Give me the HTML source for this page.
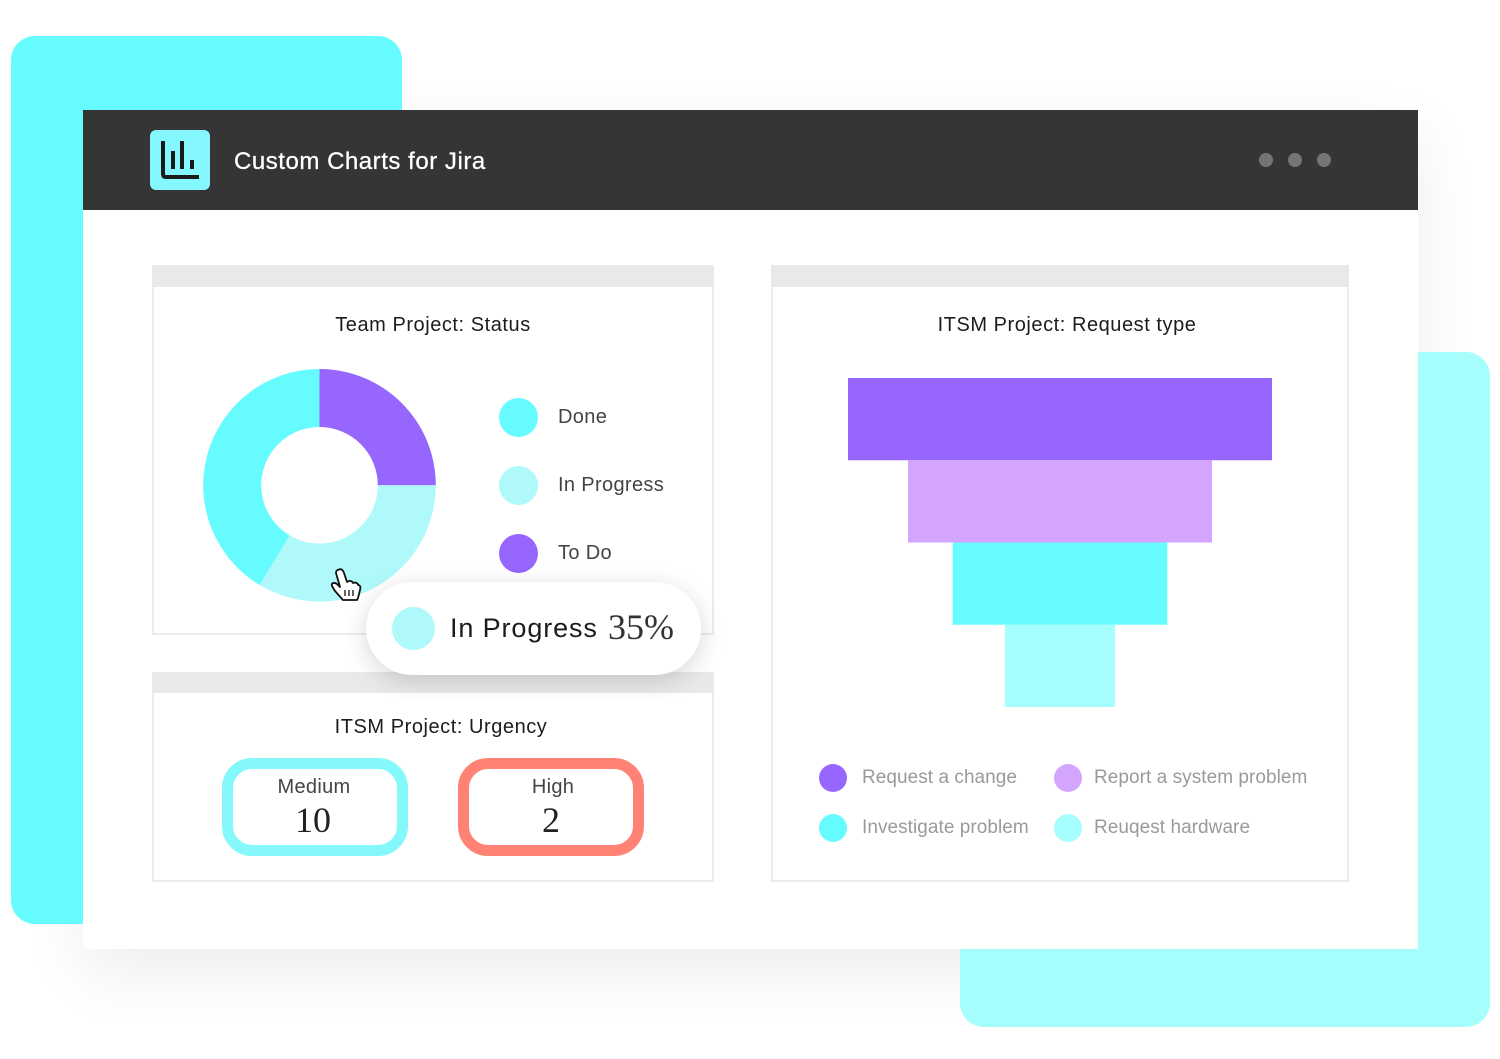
<!DOCTYPE html>
<html lang="en">
<head>
<meta charset="utf-8">
<title>Custom Charts for Jira</title>
<style>
html,body{margin:0;padding:0;background:#fff;}
#stage{position:relative;width:1500px;height:1059px;overflow:hidden;background:#fff;font-family:"Liberation Sans",sans-serif;color:#222;}
#stage div,#stage span{position:absolute;box-sizing:border-box;white-space:nowrap;}
.panel{background:#fff;border:2px solid #ececec;border-top:0;}
.panel-bar{background:#e9e9e9;}
.title{font-size:20px;letter-spacing:.55px;color:#1c1c1c;line-height:24px;text-align:center;}
.dot{border-radius:50%;}
.lbl{font-size:20px;line-height:24px;letter-spacing:.35px;color:#444;}
.lbl2{font-size:19px;line-height:24px;letter-spacing:.05px;color:#9a9a9a;}
.kpi{border-radius:30px;border:11px solid;background:#fff;}
.kpi-l{font-size:20px;line-height:24px;color:#444;text-align:center;letter-spacing:.3px;}
.kpi-v{font-family:"Liberation Serif",serif;font-size:36px;line-height:40px;color:#222;text-align:center;}
svg{position:absolute;left:0;top:0;}
</style>
</head>
<body>
<div id="stage">
  <div style="left:83px;top:110px;width:1335px;height:839px;box-shadow:0 24px 60px rgba(0,0,0,.07);"></div>
  <div style="left:11px;top:36px;width:391px;height:888px;background:#66fbff;border-radius:24px;"></div>
  <div style="left:960px;top:352px;width:530px;height:675px;background:#a6fffc;border-radius:24px;"></div>

  <div style="left:83px;top:110px;width:1335px;height:839px;background:#fff;"></div>
  <div style="left:83px;top:110px;width:1335px;height:100px;background:#353535;"></div>

  <div style="left:150px;top:130px;width:60px;height:60px;background:#85f8ff;border-radius:6px;">
    <svg width="60" height="60" viewBox="0 0 60 60">
      <path d="M13 11V44Q13 47 16 47H49" fill="none" stroke="#1a1a1a" stroke-width="4"/>
      <rect x="21" y="21" width="4" height="18" fill="#1a1a1a"/>
      <rect x="30" y="11" width="4" height="28" fill="#1a1a1a"/>
      <rect x="40" y="30" width="4" height="9" fill="#1a1a1a"/>
    </svg>
  </div>
  <div style="left:234px;top:147px;font-size:24px;line-height:30px;letter-spacing:.53px;color:#fff;-webkit-text-stroke:.3px #fff;">Custom Charts for Jira</div>
  <div class="dot" style="left:1259px;top:153px;width:14px;height:14px;background:#757575;"></div>
  <div class="dot" style="left:1288px;top:153px;width:14px;height:14px;background:#757575;"></div>
  <div class="dot" style="left:1317px;top:153px;width:14px;height:14px;background:#757575;"></div>

  <!-- Status panel -->
  <div class="panel" style="left:152px;top:265px;width:562px;height:370px;"></div>
  <div class="panel-bar" style="left:152px;top:265px;width:562px;height:22px;"></div>
  <div class="title" style="left:152px;top:313px;width:562px;">Team Project: Status</div>

  <svg id="donut" width="1500" height="1059"></svg>

  <div class="dot" style="left:499px;top:398px;width:39px;height:39px;background:#66fbff;"></div>
  <div class="lbl" style="left:558px;top:405px;">Done</div>
  <div class="dot" style="left:499px;top:466px;width:39px;height:39px;background:#b0f9fb;"></div>
  <div class="lbl" style="left:558px;top:473px;">In Progress</div>
  <div class="dot" style="left:499px;top:534px;width:39px;height:39px;background:#9666ff;"></div>
  <div class="lbl" style="left:558px;top:541px;">To Do</div>

  <!-- Urgency panel -->
  <div class="panel" style="left:152px;top:672px;width:562px;height:210px;"></div>
  <div class="panel-bar" style="left:152px;top:672px;width:562px;height:21px;"></div>
  <div class="title" style="left:160px;top:715px;width:562px;">ITSM Project: Urgency</div>

  <div class="kpi" style="left:222px;top:758px;width:186px;height:98px;border-color:#85f8fc;"></div>
  <div class="kpi-l" style="left:221px;top:775px;width:186px;">Medium</div>
  <div class="kpi-v" style="left:220px;top:800px;width:186px;">10</div>
  <div class="kpi" style="left:458px;top:758px;width:186px;height:98px;border-color:#ff8274;"></div>
  <div class="kpi-l" style="left:460px;top:775px;width:186px;">High</div>
  <div class="kpi-v" style="left:458px;top:800px;width:186px;">2</div>

  <!-- Tooltip -->
  <div style="left:366px;top:582px;width:335px;height:93px;background:#fff;border-radius:47px;box-shadow:0 6px 24px rgba(0,0,0,.16);"></div>
  <div class="dot" style="left:392px;top:607px;width:43px;height:43px;background:#b0f9fb;"></div>
  <div style="left:450px;top:611px;font-size:27px;line-height:34px;letter-spacing:.88px;color:#1c1c1c;">In Progress</div>
  <div style="left:608px;top:606px;font-family:'Liberation Serif',serif;font-size:36px;line-height:42px;color:#333;">35%</div>

  <!-- Cursor -->
  <svg width="1500" height="1059">
    <path d="M338 570c3-2 5 0 6 3l3 9c3-2 5-1 6 1 2-1 5 0 5 2 2 0 3 2 2 5l-2 8-1 2h-14l-8-9-3-5c-1-3 2-4 5-2l3 3-4-14c0-2 1-3 2-3z" fill="#fff" stroke="#111" stroke-width="1.8" stroke-linejoin="round"/>
    <path d="M345 590v6M349 590v6M353 590v6" stroke="#111" stroke-width="1.3"/>
  </svg>

  <!-- Request type panel -->
  <div class="panel" style="left:771px;top:265px;width:578px;height:617px;"></div>
  <div class="panel-bar" style="left:771px;top:265px;width:578px;height:22px;"></div>
  <div class="title" style="left:778px;top:313px;width:578px;">ITSM Project: Request type</div>

  <svg id="funnel" width="1500" height="1059"></svg>

  <div class="dot" style="left:819px;top:764px;width:28px;height:28px;background:#9666ff;"></div>
  <div class="lbl2" style="left:862px;top:766px;">Request a change</div>
  <div class="dot" style="left:1054px;top:764px;width:28px;height:28px;background:#d4a5ff;"></div>
  <div class="lbl2" style="left:1094px;top:766px;">Report a system problem</div>
  <div class="dot" style="left:819px;top:814px;width:28px;height:28px;background:#66fbff;"></div>
  <div class="lbl2" style="left:862px;top:816px;">Investigate problem</div>
  <div class="dot" style="left:1054px;top:814px;width:28px;height:28px;background:#a6fffc;"></div>
  <div class="lbl2" style="left:1094px;top:816px;">Reuqest hardware</div>
</div>

<script>
const donutCategories = ['To Do', 'In Progress', 'Done'];
const donutValues = [25, 33.6, 41.4];
const funnelCategories = ['Request a change', 'Report a system problem', 'Investigate problem', 'Request hardware'];
const funnelValues = [100, 71.7, 50.6, 26];

const NS = 'http://www.w3.org/2000/svg';
const donutColors = ['#9666ff', '#b0f9fb', '#66fbff'];
const funnelColors = ['#9666ff', '#d4a5ff', '#66fbff', '#a6fffc'];

function drawDonut() {
  const svg = document.getElementById('donut');
  const cx = 319.5, cy = 485.3, ro = 116.3, ri = 58.3;
  const total = donutValues.reduce((a, b) => a + b, 0);
  const angle = v => v / total * 2 * Math.PI;
  const pt = (r, a) => (cx + r * Math.sin(a)).toFixed(2) + ' ' + (cy - r * Math.cos(a)).toFixed(2);
  let start = 0;
  donutValues.forEach((v, i) => {
    const end = start + angle(v);
    const large = end - start > Math.PI ? 1 : 0;
    const d = 'M' + pt(ro, start) + 'A' + ro + ' ' + ro + ' 0 ' + large + ' 1 ' + pt(ro, end) +
              'L' + pt(ri, end) + 'A' + ri + ' ' + ri + ' 0 ' + large + ' 0 ' + pt(ri, start) + 'Z';
    const p = document.createElementNS(NS, 'path');
    p.setAttribute('d', d);
    p.setAttribute('fill', donutColors[i]);
    
    
    p.setAttribute('aria-label', donutCategories[i]);
    svg.appendChild(p);
    start = end;
  });
}

function drawFunnel() {
  const svg = document.getElementById('funnel');
  const cx = 1060, top = 378, rowH = 82.25, fullW = 424;
  const max = Math.max(...funnelValues);
  const widthOf = v => v / max * fullW;
  const yOf = i => top + i * rowH;
  funnelValues.forEach((v, i) => {
    const r = document.createElementNS(NS, 'rect');
    r.setAttribute('x', cx - widthOf(v) / 2);
    r.setAttribute('y', yOf(i));
    r.setAttribute('width', widthOf(v));
    r.setAttribute('height', rowH);
    r.setAttribute('fill', funnelColors[i]);
    
    
    r.setAttribute('aria-label', funnelCategories[i]);
    svg.appendChild(r);
  });
}

drawDonut();
drawFunnel();
</script>
</body>
</html>
